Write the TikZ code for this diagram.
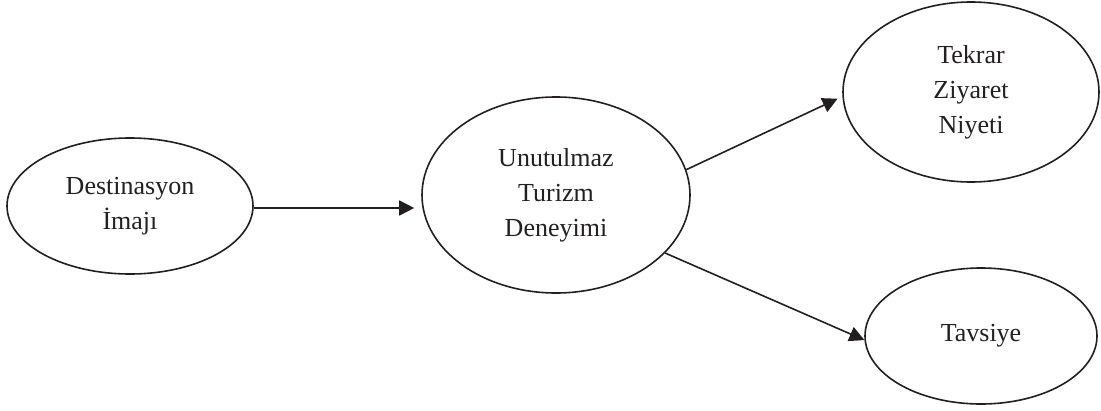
\documentclass[tikz,border=0pt]{standalone}
\usepackage{fontspec}
\setmainfont{Liberation Serif}
\usetikzlibrary{shapes.geometric,arrows.meta}
\definecolor{ink}{HTML}{231F20}
\begin{document}
\begin{tikzpicture}[x=1pt,y=-1pt,
  oval/.style={draw=ink, line width=1.6pt, ellipse, inner sep=0pt, align=center,
    text=ink, font=\fontsize{26}{35}\selectfont},
  link/.style={draw=ink, line width=1.6pt, -{Triangle[length=15pt,width=15pt]}}]
\useasboundingbox (0,0) rectangle (1101,410);
\node[oval, minimum width=246pt, minimum height=136pt] (dest) at (130,206) {Destinasyon\\İmajı};
\node[oval, minimum width=268pt, minimum height=196pt] (unut) at (556,195) {Unutulmaz\\Turizm\\Deneyimi};
\node[oval, minimum width=256pt, minimum height=180pt] (tekrar) at (971,92) {Tekrar\\Ziyaret\\Niyeti};
\node[oval, minimum width=232pt, minimum height=136pt] (tavsiye) at (981,336) {Tavsiye};
\draw[link] ([yshift=-2pt]dest.east) -- ([xshift=-7pt,yshift=-2pt]unut.west |- dest.east);
\draw[link] (unut.11) -- ([xshift=-5pt]tekrar.183);
\draw[link] (unut.-28) -- (tavsiye.182);
\end{tikzpicture}
\end{document}
